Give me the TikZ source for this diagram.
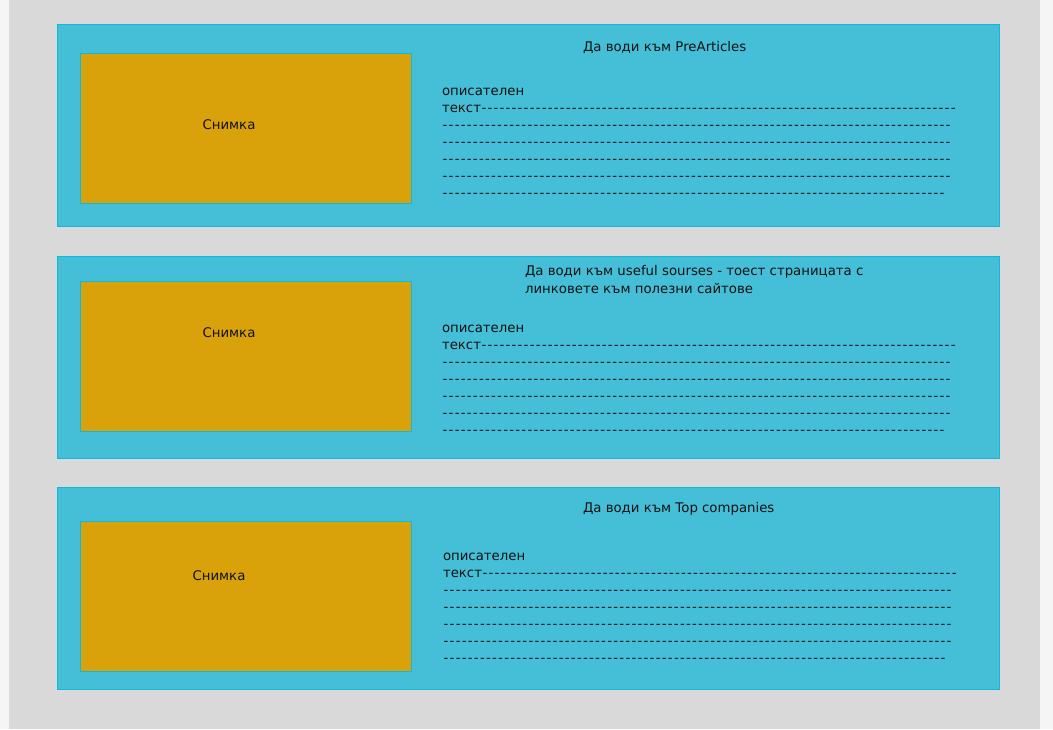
\documentclass[tikz,border=0pt]{standalone}
\usepackage{fontspec}
\setmainfont{DejaVu Sans}
\definecolor{sidewhite}{HTML}{F5F5F5}
\definecolor{bggray}{HTML}{D9D9D9}
\definecolor{cardfill}{HTML}{45BFD7}
\definecolor{cardline}{HTML}{0FB9D9}
\definecolor{imgfill}{HTML}{D9A20A}
\definecolor{txt}{HTML}{111111}
\newcommand{\dashfill}[2]{\hbox to #1pt{#2\xleaders\hbox to 6pt{\hss-\hss}\hfill}}
\begin{document}
\begin{tikzpicture}[x=1pt,y=-1pt,
  card/.style={draw=cardline,fill=cardfill,line width=1pt,inner sep=0pt,outer sep=0pt,anchor=north west,minimum width=942pt,minimum height=202pt},
  photo/.style={draw=cardline,fill=imgfill,line width=0.8pt,inner sep=0pt,outer sep=0pt,anchor=north west,minimum width=331pt,minimum height=150pt},
  lbl/.style={inner sep=0pt,outer sep=0pt,text=txt,font=\fontsize{13.3}{17}\selectfont},
  ln/.style={lbl,anchor=base west}]
\useasboundingbox (0,0) rectangle (1053,729);
\fill[sidewhite] (0,0) rectangle (1053,729);
\fill[bggray] (9,0) rectangle (1040,729);
% card 1
\node[card] (card1) at (57,24) {};
\node[photo] (img1) at (80,53) {};
\node[lbl] (cap1) at (229,125) {Снимка};
\node[ln] (t1) at (583,51.5) {Да води към PreArticles};
\node[ln] (a1) at (442,95) {описателен};
\node[ln] (b1) at (442,112) {\dashfill{514}{текст}};
\node[ln] (c1) at (442,129) {\dashfill{509}{}};
\node[ln] (d1) at (442,146) {\dashfill{509}{}};
\node[ln] (e1) at (442,163) {\dashfill{509}{}};
\node[ln] (f1) at (442,180) {\dashfill{509}{}};
\node[ln] (g1) at (442,197) {\dashfill{503}{}};
% card 2
\node[card] (card2) at (57,256) {};
\node[photo] (img2) at (80,281) {};
\node[lbl] (cap2) at (229,333) {Снимка};
\node[ln] (t2a) at (525,275.5) {Да води към useful sourses - тоест страницата с};
\node[ln] (t2b) at (525,293.5) {линковете към полезни сайтове};
\node[ln] (a2) at (442,332) {описателен};
\node[ln] (b2) at (442,349) {\dashfill{514}{текст}};
\node[ln] (c2) at (442,366) {\dashfill{509}{}};
\node[ln] (d2) at (442,383) {\dashfill{509}{}};
\node[ln] (e2) at (442,400) {\dashfill{509}{}};
\node[ln] (f2) at (442,417) {\dashfill{509}{}};
\node[ln] (g2) at (442,434) {\dashfill{503}{}};
% card 3
\node[card] (card3) at (57,487) {};
\node[photo] (img3) at (80,521) {};
\node[lbl] (cap3) at (219,576) {Снимка};
\node[ln] (t3) at (583,512.5) {Да води към Top companies};
\node[ln] (a3) at (443,560) {описателен};
\node[ln] (b3) at (443,577) {\dashfill{514}{текст}};
\node[ln] (c3) at (443,594) {\dashfill{509}{}};
\node[ln] (d3) at (443,611) {\dashfill{509}{}};
\node[ln] (e3) at (443,628) {\dashfill{509}{}};
\node[ln] (f3) at (443,645) {\dashfill{509}{}};
\node[ln] (g3) at (443,662) {\dashfill{503}{}};
\end{tikzpicture}
\end{document}
